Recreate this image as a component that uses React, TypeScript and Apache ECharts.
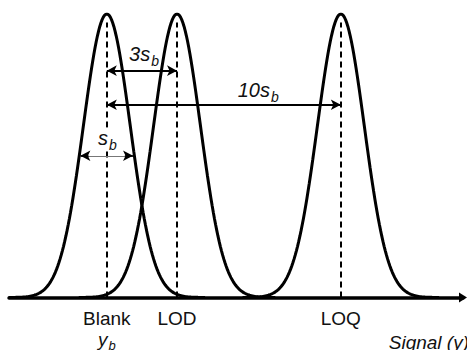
import React, { useEffect, useRef } from 'react';
import * as echarts from 'echarts';

// Peaks (positions in units of s_b)
const peakNames = ['Blank', 'LOD', 'LOQ'];
const peakCenters = [0, 3, 10];
const peakSigma = 1;
const peakHeight = 1;

// x range of the signal axis (units of s_b)
const axisMin = -4.18;
const axisMax = 15.22;

// Annotation arrows: [from, to, level]
const sbArrow = [-1.13, 1.12, 0.5];
const threeSbArrow = [0, 3, 0.8];
const tenSbArrow = [0, 10, 0.68];

// Annotation labels: [text, sub, x, y]
const annoLabels: [string, string, number, number][] = [
  ['3s', 'b', 1.59, 0.852],
  ['10s', 'b', 6.47, 0.728],
  ['s', 'b', 0.02, 0.558],
];

const FONT = '"Liberation Sans", Arial, Helvetica, sans-serif';
const TXT = '#111';

function gaussian(c: number) {
  const pts: number[][] = [];
  for (let i = -84; i <= 84; i++) {
    const x = c + i * 0.05 * peakSigma;
    pts.push([x, peakHeight * Math.exp(-((x - c) ** 2) / (2 * peakSigma * peakSigma))]);
  }
  return pts;
}

export default function App() {
  const ref = useRef<HTMLDivElement>(null);
  useEffect(() => {
    document.body.style.margin = '0';
    if (!ref.current) return;
    const chart = echarts.init(ref.current, undefined, { renderer: 'svg' });

    const richSub = {
      m: { fontSize: 20, fontStyle: 'italic', fontFamily: FONT, color: TXT, lineHeight: 23, verticalAlign: 'top' },
      s: { fontSize: 14, fontStyle: 'italic', fontFamily: FONT, color: TXT, lineHeight: 16, verticalAlign: 'top', padding: [10, 0, 0, 1] },
    };

    const dashedLines = peakCenters.map((c) => [
      { coord: [c, 0], symbol: 'none' },
      { coord: [c, peakHeight * 0.97], symbol: 'none' },
    ]);

    const arrowLine = (a: number[], width: number, color: string) => [
      { coord: [a[0], a[2]], symbol: 'arrow', lineStyle: { type: 'solid', width, color } },
      { coord: [a[1], a[2]], symbol: 'arrow' },
    ];

    const series: any[] = peakCenters.map((c, i) => ({
      type: 'line',
      name: peakNames[i],
      data: gaussian(c),
      showSymbol: false,
      symbol: 'none',
      lineStyle: { color: '#000', width: 3 },
      silent: true,
      z: 3,
    }));

    series[0].markLine = {
      silent: true,
      animation: false,
      symbolSize: [8, 10],
      label: { show: false },
      lineStyle: { type: [6, 4], width: 2, color: '#000' },
      data: [
        ...dashedLines,
        arrowLine(threeSbArrow, 2, '#000'),
        arrowLine(tenSbArrow, 2, '#000'),
        [
          { coord: [sbArrow[0], sbArrow[2]], symbol: 'none', lineStyle: { type: 'solid', width: 1, color: '#777' } },
          { coord: [sbArrow[1], sbArrow[2]], symbol: 'none' },
        ],
        [
          { coord: [sbArrow[0] + 0.35, sbArrow[2]], symbol: 'none', lineStyle: { type: 'solid', width: 1.5, color: '#000' } },
          { coord: [sbArrow[0], sbArrow[2]], symbol: 'arrow' },
        ],
        [
          { coord: [sbArrow[1] - 0.35, sbArrow[2]], symbol: 'none', lineStyle: { type: 'solid', width: 1.5, color: '#000' } },
          { coord: [sbArrow[1], sbArrow[2]], symbol: 'arrow' },
        ],
      ],
    };

    series[2].z = 5;
    series[2].markPoint = {
      silent: true,
      animation: false,
      symbol: 'circle',
      symbolSize: 1,
      itemStyle: { color: 'transparent' },
      label: { show: true, position: 'inside', rich: richSub },
      data: annoLabels.map(([t, s, x, y], k) => ({
        coord: [x, y],
        label:
          k === 2
            ? { formatter: `{m|${t}}{s|${s}}`, backgroundColor: '#fff', padding: [0, 2, 0, 2] }
            : { formatter: `{m|${t}}{s|${s}}` },
      })),
    };

    chart.setOption({
      animation: false,
      grid: { left: 9, right: 4, top: 14, bottom: 52.5, outerBoundsMode: 'none', containLabel: false },
      xAxis: {
        type: 'value',
        min: axisMin,
        max: axisMax,
        splitLine: { show: false },
        axisTick: { show: false },
        axisLine: {
          show: true,
          symbol: ['none', 'triangle'],
          symbolSize: [10, 8],
          lineStyle: { color: '#000', width: 3.5 },
        },
        axisLabel: {
          show: true,
          customValues: peakCenters,
          margin: 10,
          formatter: (v: number) => {
            const i = peakCenters.indexOf(v);
            if (i < 0) return '';
            return i === 0 ? `{n|${peakNames[i]}}\n{i|y}{s|b}` : `{n|${peakNames[i]}}`;
          },
          rich: {
            n: { fontSize: 19, fontFamily: FONT, color: TXT, lineHeight: 22 },
            i: { fontSize: 19, fontStyle: 'italic', fontFamily: FONT, color: TXT, lineHeight: 22, verticalAlign: 'top' },
            s: { fontSize: 13, fontStyle: 'italic', fontFamily: FONT, color: TXT, lineHeight: 14, verticalAlign: 'top', padding: [9, 0, 0, 1] },
          },
        },
      },
      yAxis: { type: 'value', min: 0, max: 1, show: false },
      graphic: [
        {
          type: 'text',
          x: 469,
          y: 333,
          style: {
            text: 'Signal (y)',
            fontSize: 19,
            fontStyle: 'italic',
            fontFamily: FONT,
            fill: TXT,
            textAlign: 'right',
            textVerticalAlign: 'top',
          },
        },
      ],
      series,
    });
    return () => chart.dispose();
  }, []);
  return <div ref={ref} style={{ width: 467, height: 350 }} />;
}
